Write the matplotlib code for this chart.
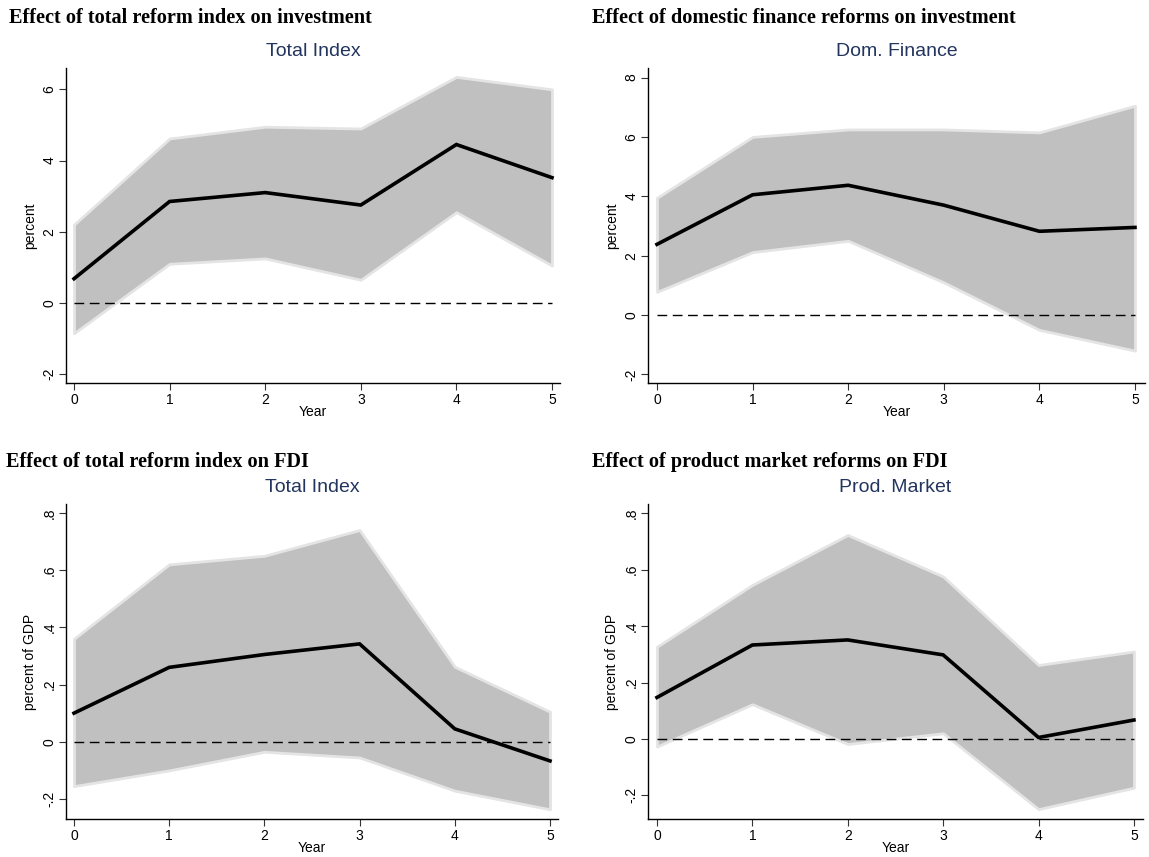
import numpy as np
import matplotlib
matplotlib.use("Agg")
import matplotlib.pyplot as plt

plt.rcParams['font.family'] = ['Liberation Sans', 'DejaVu Sans']

years = [0, 1, 2, 3, 4, 5]

# investment, total index
inv_tot_mean = [0.68, 2.85, 3.10, 2.75, 4.45, 3.52]
inv_tot_hi = [2.20, 4.62, 4.95, 4.90, 6.35, 6.00]
inv_tot_lo = [-0.85, 1.10, 1.25, 0.65, 2.55, 1.05]

# investment, domestic finance
inv_dom_mean = [2.38, 4.05, 4.37, 3.70, 2.82, 2.95]
inv_dom_hi = [3.95, 6.00, 6.25, 6.25, 6.15, 7.05]
inv_dom_lo = [0.78, 2.12, 2.50, 1.10, -0.50, -1.20]

# FDI, total index
fdi_tot_mean = [0.100, 0.260, 0.305, 0.342, 0.045, -0.067]
fdi_tot_hi = [0.360, 0.620, 0.650, 0.740, 0.262, 0.105]
fdi_tot_lo = [-0.155, -0.100, -0.035, -0.055, -0.171, -0.236]

# FDI, product market
fdi_pm_mean = [0.147, 0.333, 0.351, 0.298, 0.005, 0.067]
fdi_pm_hi = [0.327, 0.546, 0.723, 0.576, 0.262, 0.310]
fdi_pm_lo = [-0.027, 0.123, -0.018, 0.020, -0.249, -0.173]

headers = ["Effect of total reform index on investment",
           "Effect of domestic finance reforms on investment",
           "Effect of total reform index on FDI",
           "Effect of product market reforms on FDI"]
subtitles = ["Total Index", "Dom. Finance", "Total Index", "Prod. Market"]
ylabels = ["percent", "percent", "percent of GDP", "percent of GDP"]
yticks = [[-2, 0, 2, 4, 6], [-2, 0, 2, 4, 6, 8],
          [-0.2, 0, 0.2, 0.4, 0.6, 0.8], [-0.2, 0, 0.2, 0.4, 0.6, 0.8]]
ylims = [(-2.25, 6.6), (-2.29, 8.32), (-0.270, 0.831), (-0.284, 0.833)]

series = [(inv_tot_mean, inv_tot_lo, inv_tot_hi),
          (inv_dom_mean, inv_dom_lo, inv_dom_hi),
          (fdi_tot_mean, fdi_tot_lo, fdi_tot_hi),
          (fdi_pm_mean, fdi_pm_lo, fdi_pm_hi)]

W, H = 1149, 857
fig = plt.figure(figsize=(W / 100, H / 100), dpi=100)

# axes boxes in pixels: left, right, top, bottom
boxes = [(66, 560, 68, 383), (648, 1145, 68, 383),
         (66, 558, 504, 819), (648, 1143, 504, 819)]
xlims = [(-0.084, 5.084), (-0.094, 5.105), (-0.084, 5.084), (-0.094, 5.095)]
header_pos = [(9, 18), (592, 18), (6, 462), (592, 462)]

title_col = '#23355f'


def fmt(v):
    if float(v).is_integer():
        return str(int(v))
    s = ('%g' % v)
    return s.replace('0.', '.')


for i in range(4):
    l, r, t, b = boxes[i]
    ax = fig.add_axes([l / W, 1 - b / H, (r - l) / W, (b - t) / H])
    mean, lo, hi = series[i]
    ax.fill_between(years, lo, hi, facecolor='#c0c0c0', edgecolor='#e4e4e4',
                    linewidth=2.0, zorder=1)
    ax.axhline(0, color='black', lw=1.0, ls=(0, (7, 4)), zorder=2,
               xmin=(0 - xlims[i][0]) / (xlims[i][1] - xlims[i][0]),
               xmax=(5 - xlims[i][0]) / (xlims[i][1] - xlims[i][0]))
    ax.plot(years, mean, color='black', lw=2.6, zorder=3,
            solid_joinstyle='miter')
    ax.set_xlim(*xlims[i])
    ax.set_ylim(*ylims[i])
    ax.set_xticks(years)
    ax.set_yticks(yticks[i])
    ax.set_yticklabels([fmt(v) for v in yticks[i]], rotation=90, va='center')
    ax.tick_params(labelsize=10, length=5, width=0.8, color='#333333', pad=2)
    for s in ['top', 'right']:
        ax.spines[s].set_visible(False)
    for s in ['left', 'bottom']:
        ax.spines[s].set_linewidth(1.0)
    ax.set_xlabel('Year', fontsize=10, labelpad=-1)
    ax.set_ylabel(ylabels[i], fontsize=10, labelpad=4)
    fig.text((l + r) / 2 / W, 1 - (t - 16) / H, subtitles[i],
             ha='center', va='center', fontsize=14, color=title_col)
    hx, hy = header_pos[i]
    fig.text(hx / W, 1 - hy / H, headers[i], ha='left', va='center',
             fontsize=14.6, fontweight='bold', family='Liberation Serif')

fig.savefig('out.png', dpi=100)
